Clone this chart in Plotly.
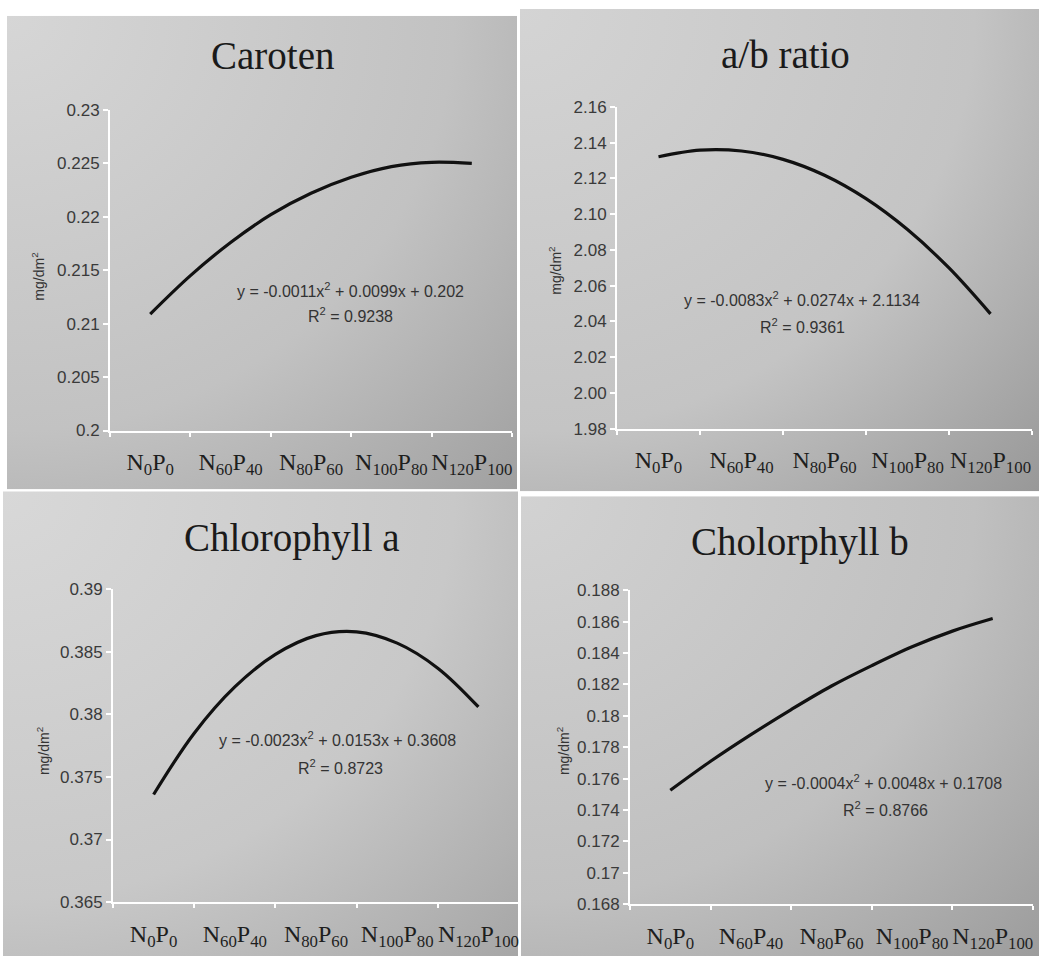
import base64
import plotly.graph_objects as go

W, H = 1039, 966

# ---------------- data ----------------
categories = ["N<sub>0</sub>P<sub>0</sub>", "N<sub>60</sub>P<sub>40</sub>",
              "N<sub>80</sub>P<sub>60</sub>", "N<sub>100</sub>P<sub>80</sub>",
              "N<sub>120</sub>P<sub>100</sub>"]
cat_index = [1, 2, 3, 4, 5]
x_samples = [1, 1.5, 2, 2.5, 3, 3.5, 4, 4.5, 5]

caroten = [0.2109, 0.2145, 0.2176, 0.2202, 0.2222, 0.2237, 0.2247, 0.2251, 0.2250]
ab_ratio = [2.1322, 2.1359, 2.1354, 2.1307, 2.1218, 2.1087, 2.0914, 2.0699, 2.0442]
chl_a = [0.3736, 0.3785, 0.3822, 0.3848, 0.3863, 0.3866, 0.3857, 0.3837, 0.3806]
chl_b = [0.17525, 0.1771, 0.1788, 0.1804, 0.1819, 0.1832, 0.1844, 0.1854, 0.1862]

titles = ["Caroten", "a/b ratio", "Chlorophyll a", "Cholorphyll b"]
equations = ["y = -0.0011x<sup>2</sup> + 0.0099x + 0.202",
             "y = -0.0083x<sup>2</sup> + 0.0274x + 2.1134",
             "y = -0.0023x<sup>2</sup> + 0.0153x + 0.3608",
             "y = -0.0004x<sup>2</sup> + 0.0048x + 0.1708"]
r_squared = ["R<sup>2</sup> = 0.9238", "R<sup>2</sup> = 0.9361",
             "R<sup>2</sup> = 0.8723", "R<sup>2</sup> = 0.8766"]
y_ranges = [(0.2, 0.23, 0.005), (1.98, 2.16, 0.02), (0.365, 0.39, 0.005), (0.168, 0.188, 0.002)]
y_formats = ["", ".2f", "", ""]
series = [caroten, ab_ratio, chl_a, chl_b]

# ---------------- layout geometry (pixels) ----------------
panels = [  # background rect x0,y0,x1,y1
    (7, 7, 517, 490),
    (520, 0, 1039, 492),
    (3, 492, 518, 966),
    (521, 497, 1039, 966),
]
plot_areas = [  # x0, x1, ytop, ybottom
    (110, 512, 103, 430),
    (617, 1032, 100, 428),
    (113, 519, 592, 911),
    (630, 1033, 593, 913),
]
title_pos = [(272, 47), (785, 46), (292, 540), (800, 544)]
eq_pos = [(350, 287), (802, 296), (337, 745), (883, 788)]
r2_pos = [(350, 312), (802, 323), (340, 773), (885, 816)]
ylab_pos = [(38, 273), (555, 267), (43, 757), (563, 757)]
grad_colors = [
    ("#d6d6d6", "#c2c2c2", "#a0a0a0"),
    ("#d4d4d4", "#c4c4c4", "#989898"),
    ("#d8d8d8", "#c8c8c8", "#a6a6a6"),
    ("#d2d2d2", "#c0c0c0", "#9c9c9c"),
]


def px_x(v):
    return v / W


def px_y(v):
    return 1 - v / H


def grad_svg(c0, c1, c2):
    svg = ('<svg xmlns="http://www.w3.org/2000/svg" width="100" height="100" '
           'viewBox="0 0 100 100" preserveAspectRatio="none"><defs>'
           '<radialGradient id="g" cx="0" cy="0" r="1.414" gradientUnits="objectBoundingBox">'
           f'<stop offset="0" stop-color="{c0}"/><stop offset="0.62" stop-color="{c1}"/>'
           f'<stop offset="1" stop-color="{c2}"/></radialGradient></defs>'
           '<rect width="100" height="100" fill="url(#g)"/></svg>')
    return "data:image/svg+xml;base64," + base64.b64encode(svg.encode()).decode()


fig = go.Figure()
images = []
annotations = []
TICKFONT = dict(family="Liberation Sans, Arial", size=17, color="#3a3a3a")

for i in range(4):
    n = "" if i == 0 else str(i + 1)
    xa, ya = "x" + n, "y" + n
    fig.add_trace(go.Scatter(
        x=x_samples, y=series[i], mode="lines",
        line=dict(color="#111111", width=3.2, shape="spline", smoothing=1.0),
        xaxis=xa, yaxis=ya, showlegend=False, hoverinfo="skip"))

    x0, x1, yt, yb = plot_areas[i]
    lo, hi, dt = y_ranges[i]
    xkey = "xaxis" + n
    ykey = "yaxis" + n
    fig.update_layout(**{
        xkey: dict(domain=[px_x(x0), px_x(x1)], range=[0.5, 5.5], anchor=ya,
                   showgrid=False, zeroline=False, showline=True, linecolor="white", linewidth=2,
                   tickmode="array", tickvals=cat_index, ticktext=categories, ticks="",
                   ticklabelstandoff=9,
                   tickfont=dict(family="Liberation Serif, Times New Roman", size=24, color="#1e1e1e"),
                   minor=dict(tickmode="array", tickvals=[0.5, 1.5, 2.5, 3.5, 4.5, 5.5],
                              ticks="outside", ticklen=4, tickcolor="white", tickwidth=1.5,
                              showgrid=False),
                   fixedrange=True),
        ykey: dict(domain=[px_y(yb), px_y(yt)], range=[lo, hi], anchor=xa,
                   showgrid=False, zeroline=False, showline=True, linecolor="white", linewidth=2,
                   tickmode="linear", tick0=lo, dtick=dt, tickformat=y_formats[i],
                   ticks="outside", ticklen=5, tickcolor="white", tickwidth=1.5,
                   tickfont=TICKFONT, fixedrange=True),
    })

    px0, py0, px1, py1 = panels[i]
    images.append(dict(source=grad_svg(*grad_colors[i]), xref="paper", yref="paper",
                       x=px_x(px0), y=px_y(py0), sizex=(px1 - px0) / W, sizey=(py1 - py0) / H,
                       xanchor="left", yanchor="top", sizing="stretch", layer="below"))

    tx, ty = title_pos[i]
    annotations.append(dict(text=titles[i], x=px_x(tx), y=px_y(ty), xref="paper", yref="paper",
                            showarrow=False, xanchor="center", yanchor="middle",
                            font=dict(family="Liberation Serif, Times New Roman", size=39,
                                      color="#1a1a1a")))
    ex, ey = eq_pos[i]
    annotations.append(dict(text=equations[i], x=px_x(ex), y=px_y(ey), xref="paper", yref="paper",
                            showarrow=False, xanchor="center", yanchor="middle",
                            font=dict(family="Liberation Sans, Arial", size=16, color="#333333")))
    rx, ry = r2_pos[i]
    annotations.append(dict(text=r_squared[i], x=px_x(rx), y=px_y(ry), xref="paper", yref="paper",
                            showarrow=False, xanchor="center", yanchor="middle",
                            font=dict(family="Liberation Sans, Arial", size=16, color="#333333")))
    lx, ly = ylab_pos[i]
    annotations.append(dict(text="mg/dm<sup>2</sup>", x=px_x(lx), y=px_y(ly), xref="paper",
                            yref="paper", showarrow=False, textangle=-90, xanchor="center",
                            yanchor="middle",
                            font=dict(family="Liberation Sans, Arial", size=14, color="#333333")))

fig.update_layout(width=W, height=H, margin=dict(l=0, r=0, t=0, b=0),
                  paper_bgcolor="white", plot_bgcolor="rgba(0,0,0,0)",
                  images=images, annotations=annotations, showlegend=False)

fig.write_html("out.html", config={"displayModeBar": False},
               post_script="document.body.style.margin='0';document.body.style.overflow='hidden';")
